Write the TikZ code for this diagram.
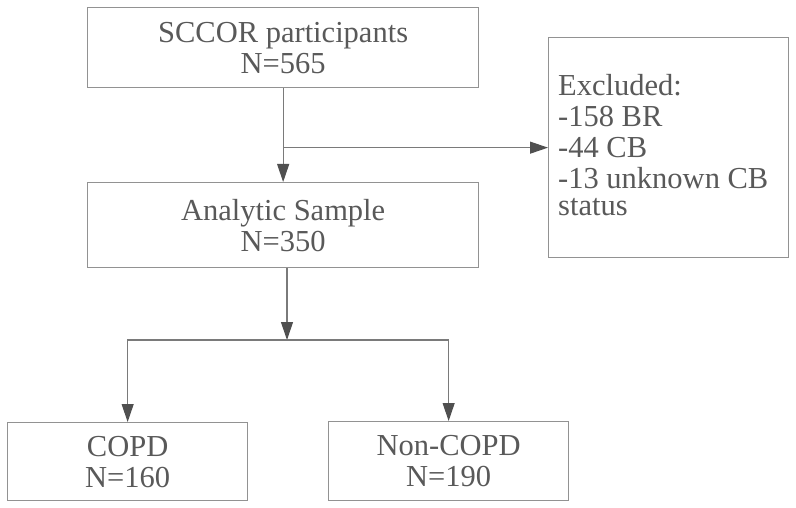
\documentclass[tikz,border=0pt]{standalone}
\usepackage{fontspec}
\setmainfont{Liberation Serif}
\usetikzlibrary{arrows.meta}
\definecolor{boxline}{HTML}{929292}
\definecolor{conline}{HTML}{7A7A7A}
\definecolor{tipcol}{HTML}{505050}
\definecolor{txt}{HTML}{595959}
\tikzset{
  box/.style={draw=boxline, line width=1.3pt, fill=white, inner sep=0pt,
    text=txt, font=\fontsize{30.5}{31}\selectfont, align=center, anchor=north west},
  lbl/.style={inner sep=0pt, text=txt, font=\fontsize{30.5}{31}\selectfont, align=left},
  arr/.style={draw=conline, line width=1.1pt,
    -{Triangle[length=18pt,width=12pt,color=tipcol,fill=tipcol]}}
}
\begin{document}
\begin{tikzpicture}[x=1pt,y=-1pt]
\useasboundingbox (0,0) rectangle (796,508);
\node[box, minimum width=391pt, minimum height=80pt] (b1) at (87,7)
  {SCCOR participants\\N=565};
\node[box, minimum width=391pt, minimum height=85pt] (b2) at (87,182)
  {Analytic Sample\\N=350};
\node[box, minimum width=240pt, minimum height=220pt] (ex) at (548,37) {};
\node[lbl, anchor=north west] (exl) at (558,74)
  {Excluded:\\-158 BR\\-44 CB\\-13 unknown CB\\[-4pt]status};
\node[box, minimum width=240pt, minimum height=78pt] (c1) at (7,422)
  {COPD\\N=160};
\node[box, minimum width=240pt, minimum height=79pt] (c2) at (328,421)
  {Non-COPD\\N=190};
\coordinate (j) at (287,340);
\draw[arr] (b1.south) -- (b1.south |- b2.north);
\draw[arr] (b1.south |- ex.west) -- (ex.west);
\draw[arr] (b2.south -| j) -- (j);
\draw[arr] (j) -| (c1.north);
\draw[arr] (j) -| (c2.north);
\end{tikzpicture}
\end{document}
